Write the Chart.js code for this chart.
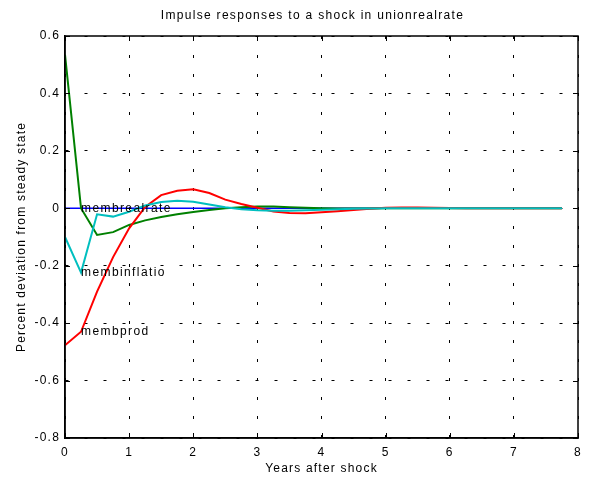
<!DOCTYPE html>
<html>
<head>
<meta charset="utf-8">
<script src="https://cdn.jsdelivr.net/npm/chart.js@4.4.1/dist/chart.umd.min.js"></script>
<style>
  html, body { margin: 0; padding: 0; background: #fff; }
  #wrap { width: 600px; height: 484px; }
</style>
</head>
<body>
<div id="wrap"><canvas id="chart"></canvas></div>
<script>
// Impulse responses to a shock in unionrealrate (quarterly steps, in years)
const quarters = [0, 0.25, 0.5, 0.75, 1, 1.25, 1.5, 1.75, 2, 2.25, 2.5, 2.75,
  3, 3.25, 3.5, 3.75, 4, 4.25, 4.5, 4.75, 5, 5.25, 5.5, 5.75,
  6, 6.25, 6.5, 6.75, 7, 7.25, 7.5, 7.75];

const membrealrate = [0, 0, 0, 0, 0, 0, 0, 0, 0, 0, 0, 0,
  0, 0, 0, 0, 0, 0, 0, 0, 0, 0, 0, 0,
  0, 0, 0, 0, 0, 0, 0, 0];

const unionrealrate = [0.535, 0.0, -0.093, -0.083, -0.058, -0.042, -0.030, -0.021, -0.013, -0.006, 0.0, 0.004,
  0.006, 0.006, 0.004, 0.002, 0.0, -0.001, -0.001, -0.001, 0, 0, 0, 0,
  0, 0, 0, 0, 0, 0, 0, 0];

const membinflatio = [-0.100, -0.224, -0.021, -0.029, -0.012, 0.010, 0.022, 0.026, 0.023, 0.013, 0.004, -0.003,
  -0.007, -0.009, -0.009, -0.007, -0.005, -0.003, -0.002, -0.001, 0, 0, 0, 0,
  0, 0, 0, 0, 0, 0, 0, 0];

const membprod = [-0.477, -0.430, -0.290, -0.170, -0.070, 0.005, 0.046, 0.061, 0.066, 0.053, 0.030, 0.015,
  0.002, -0.011, -0.016, -0.017, -0.014, -0.010, -0.006, -0.002, 0.002, 0.003, 0.003, 0.002,
  0.001, 0, 0, 0, 0, 0, 0, 0];

const titleText = 'Impulse responses to a shock in unionrealrate';

// series names written next to the curve, at this point index
const labelIndex = 1;

const FONT = "'Liberation Sans', Arial, Helvetica, sans-serif";

function pts(values) { return values.map((v, i) => ({ x: quarters[i], y: v })); }

// MATLAB-ish wide text spacing for the built-in texts
const spacingPlugin = {
  id: 'spacing',
  beforeUpdate(chart) { chart.ctx.letterSpacing = '1.2px'; },
  beforeDraw(chart) { chart.ctx.letterSpacing = '1.2px'; },
};

// full box with inward ticks, the title and the curve names
const boxPlugin = {
  id: 'box',
  afterDraw(chart) {
    const { ctx, chartArea: a, scales } = chart;
    ctx.save();
    ctx.strokeStyle = '#000';
    ctx.lineWidth = 1.5;
    ctx.strokeRect(a.left, a.top, a.right - a.left, a.bottom - a.top);

    const tl = 5;
    ctx.lineWidth = 1;
    ctx.beginPath();
    scales.x.ticks.forEach(t => {
      const px = Math.round(scales.x.getPixelForValue(t.value)) + 0.5;
      ctx.moveTo(px, a.top); ctx.lineTo(px, a.top + tl);
      ctx.moveTo(px, a.bottom); ctx.lineTo(px, a.bottom - tl);
    });
    scales.y.ticks.forEach(t => {
      const py = Math.round(scales.y.getPixelForValue(t.value)) + 0.5;
      ctx.moveTo(a.left, py); ctx.lineTo(a.left + tl, py);
      ctx.moveTo(a.right, py); ctx.lineTo(a.right - tl, py);
    });
    ctx.stroke();

    ctx.fillStyle = '#000';
    ctx.letterSpacing = '1.3px';
    ctx.font = '12px ' + FONT;
    ctx.textAlign = 'center';
    ctx.textBaseline = 'middle';
    ctx.fillText(titleText, (a.left + a.right) / 2 - 9, a.top / 2 - 2);

    ctx.letterSpacing = '1.4px';
    ctx.textAlign = 'left';
    chart.data.datasets.forEach(ds => {
      if (!ds.tag) return;
      const p = ds.data[labelIndex];
      ctx.fillText(ds.label, scales.x.getPixelForValue(p.x), scales.y.getPixelForValue(p.y));
    });
    ctx.restore();
  },
};

const ctx = document.getElementById('chart').getContext('2d');
new Chart(ctx, {
  type: 'line',
  data: {
    datasets: [
      { label: 'membinflatio', tag: true, data: pts(membinflatio), borderColor: '#00bfbf', borderWidth: 2 },
      { label: 'membprod', tag: true, data: pts(membprod), borderColor: '#ff0000', borderWidth: 2 },
      { label: 'unionrealrate', tag: false, data: pts(unionrealrate), borderColor: '#008000', borderWidth: 2 },
      { label: 'membrealrate', tag: true, data: pts(membrealrate), borderColor: '#0000ff', borderWidth: 1.5 },
    ],
  },
  options: {
    responsive: true,
    maintainAspectRatio: false,
    animation: false,
    devicePixelRatio: 1,
    elements: { point: { radius: 0 }, line: { tension: 0 } },
    layout: { padding: { left: 0, right: 22, top: 36, bottom: 0 } },
    plugins: {
      legend: { display: false },
      tooltip: { enabled: false },
      title: { display: false },
    },
    scales: {
      x: {
        type: 'linear',
        min: 0,
        max: 8,
        ticks: { stepSize: 1, color: '#000', padding: 7, font: { family: FONT, size: 12 } },
        grid: { color: '#000', lineWidth: 1, drawTicks: false, tickLength: 0 },
        border: { display: true, color: '#000', width: 1.5, dash: [3, 16] },
        title: { display: true, text: 'Years after shock', color: '#000', padding: 8, font: { family: FONT, size: 12 } },
        afterFit(s) { s.height = 46; },
      },
      y: {
        min: -0.8,
        max: 0.6,
        ticks: {
          stepSize: 0.2, color: '#000', padding: 5, font: { family: FONT, size: 12 },
          callback: v => String(Number(v.toFixed(1))),
        },
        grid: { color: '#000', lineWidth: 1, drawTicks: false, tickLength: 0 },
        border: { display: true, color: '#000', width: 1.5, dash: [3, 16] },
        title: { display: true, text: 'Percent deviation from steady state', color: '#000', padding: 14, font: { family: FONT, size: 12 } },
        afterFit(s) { s.width = 65; },
      },
    },
  },
  plugins: [spacingPlugin, boxPlugin],
});
</script>
</body>
</html>
